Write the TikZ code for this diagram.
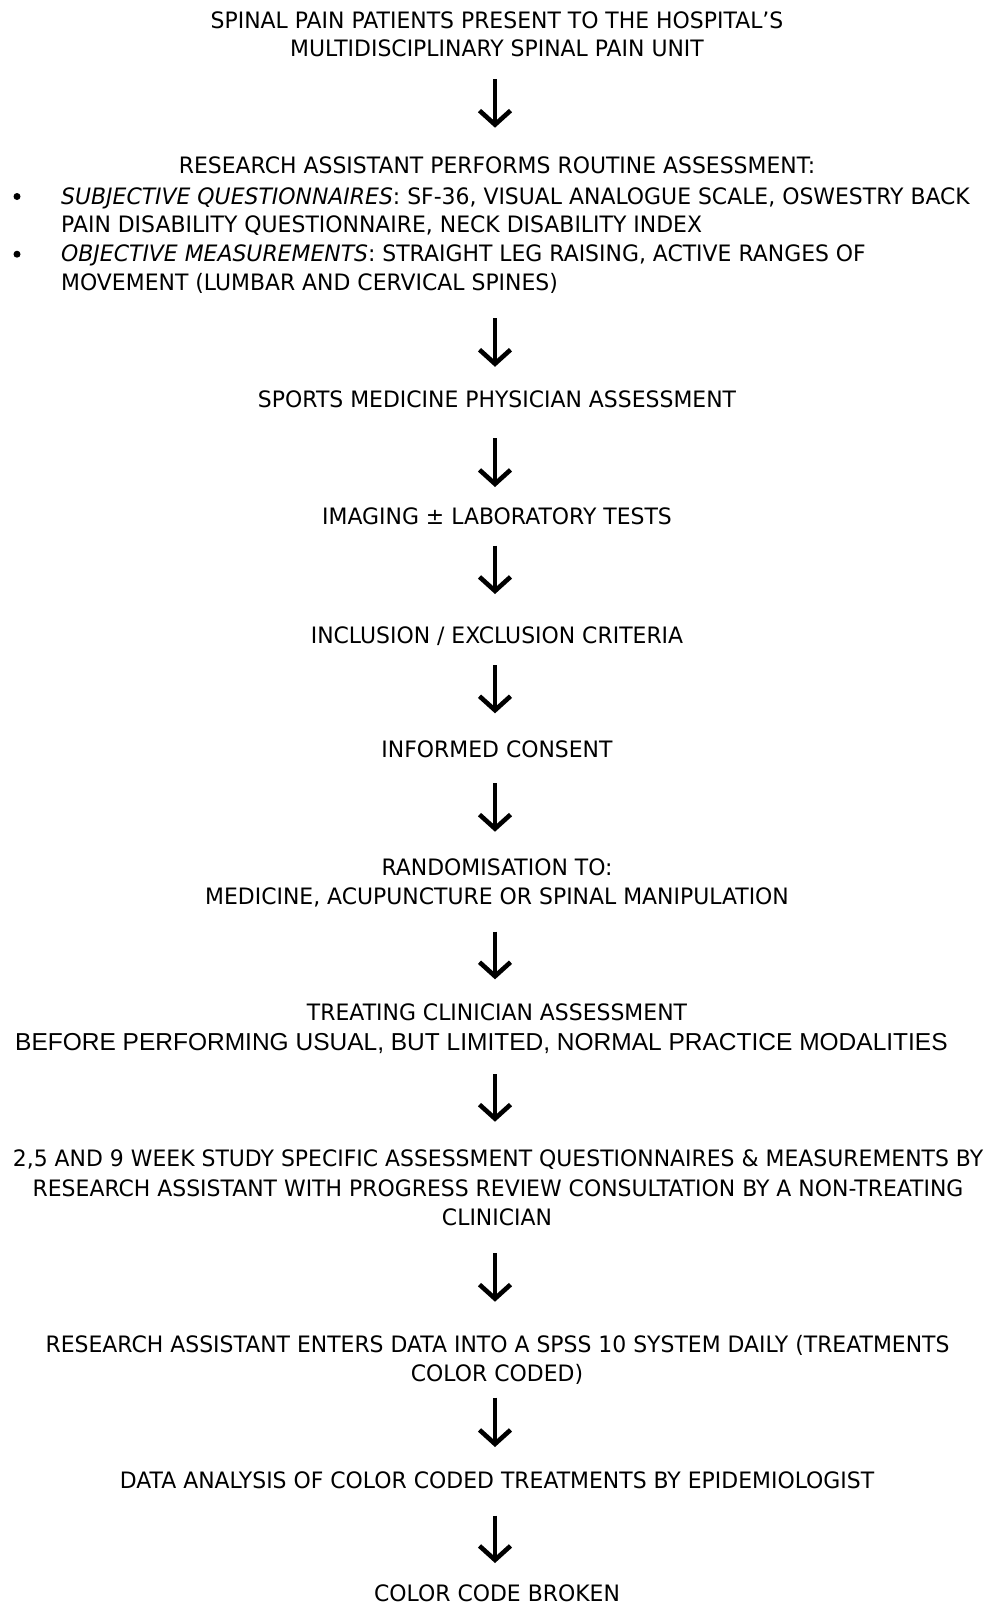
\documentclass[tikz,border=0pt]{standalone}
\usepackage{fontspec}
\setmainfont{DejaVu Sans}[FakeStretch=0.97]
\newfontfamily\widefont{Liberation Sans}
\usetikzlibrary{arrows.meta,calc}

\begin{document}
\begin{tikzpicture}[x=1pt,y=1pt,
	txt/.style={anchor=base,inner sep=0pt,font=\fontsize{22.6}{29}\selectfont},
	dot/.style={circle,fill,inner sep=0pt,minimum size=7pt},
	flow/.style={line width=4pt,-{Straight Barb[length=14pt,width=31pt,line width=4.6pt]}}]
	\useasboundingbox (0,0) rectangle (997,-1606);
	\node[txt] (t1) at (497,-28.3) {SPINAL PAIN PATIENTS PRESENT TO THE HOSPITAL'S};
	\node[txt] (t2) at (497,-56.7) {MULTIDISCIPLINARY SPINAL PAIN UNIT};
	\node[txt] (h) at (497,-173.3) {RESEARCH ASSISTANT PERFORMS ROUTINE ASSESSMENT:};
	\node[dot] (d1) at (17,-196.5) {};
	\node[txt,anchor=base west] (b1) at (61,-204) {\textit{SUBJECTIVE QUESTIONNAIRES}: SF-36, VISUAL ANALOGUE SCALE, OSWESTRY BACK};
	\node[txt,anchor=base west] (b2) at (61,-232.3) {PAIN DISABILITY QUESTIONNAIRE, NECK DISABILITY INDEX};
	\node[dot] (d2) at (17,-254.2) {};
	\node[txt,anchor=base west] (b3) at (61,-261.7) {\textit{OBJECTIVE MEASUREMENTS}: STRAIGHT LEG RAISING, ACTIVE RANGES OF};
	\node[txt,anchor=base west] (b4) at (61,-290) {MOVEMENT (LUMBAR AND CERVICAL SPINES)};
	\node[txt] (sports) at (497,-407.3) {SPORTS MEDICINE PHYSICIAN ASSESSMENT};
	\node[txt] (img) at (497,-524) {IMAGING ± LABORATORY TESTS};
	\node[txt] (incl) at (497,-643.5) {INCLUSION / EXCLUSION CRITERIA};
	\node[txt] (cons) at (497,-757.3) {INFORMED CONSENT};
	\node[txt] (rand1) at (497,-875) {RANDOMISATION TO:};
	\node[txt] (rand2) at (497,-904.5) {MEDICINE, ACUPUNCTURE OR SPINAL MANIPULATION};
	\node[txt] (treat1) at (497,-1020.7) {TREATING CLINICIAN ASSESSMENT};
	\node[txt,anchor=base west,font=\widefont\fontsize{24.5}{29}\selectfont] (treat2) at (15,-1050.7) {BEFORE PERFORMING USUAL, BUT LIMITED, NORMAL PRACTICE MODALITIES};
	\node[txt] (wk1) at (498,-1166.7) {2,5 AND 9 WEEK STUDY SPECIFIC ASSESSMENT QUESTIONNAIRES \& MEASUREMENTS BY};
	\node[txt] (wk2) at (498,-1196) {RESEARCH ASSISTANT WITH PROGRESS REVIEW CONSULTATION BY A NON-TREATING};
	\node[txt] (wk3) at (497,-1225) {CLINICIAN};
	\node[txt] (data1) at (497.5,-1352.3) {RESEARCH ASSISTANT ENTERS DATA INTO A SPSS 10 SYSTEM DAILY (TREATMENTS};
	\node[txt] (data2) at (497,-1381.7) {COLOR CODED)};
	\node[txt] (anal) at (497,-1488.5) {DATA ANALYSIS OF COLOR CODED TREATMENTS BY EPIDEMIOLOGIST};
	\node[txt] (broken) at (497,-1601.7) {COLOR CODE BROKEN};
	% arrows between the steps
	\draw[flow] ($(t2.base)+(-2,-22.3)$) -- ($(h.base)+(-2,45.6)$);
	\draw[flow] ($(h.base |- b4.base)+(-2,-28)$) -- ($(sports.base)+(-2,40.5)$);
	\draw[flow] ($(sports.base)+(-2,-31)$) -- ($(img.base)+(-2,37)$);
	\draw[flow] ($(img.base)+(-2,-21.7)$) -- ($(incl.base)+(-2,49.5)$);
	\draw[flow] ($(incl.base)+(-2,-21.5)$) -- ($(cons.base)+(-2,44)$);
	\draw[flow] ($(cons.base)+(-2,-26)$) -- ($(rand1.base)+(-2,43.3)$);
	\draw[flow] ($(rand2.base)+(-2,-27.2)$) -- ($(treat1.base)+(-2,41.4)$);
	\draw[flow] ($(treat1.base |- treat2.base)+(-2,-23.6)$) -- ($(wk3.base |- wk1.base)+(-2,45)$);
	\draw[flow] ($(wk3.base)+(-2,-28.3)$) -- ($(data2.base |- data1.base)+(-2,50.6)$);
	\draw[flow] ($(data2.base)+(-2,-16)$) -- ($(anal.base)+(-2,41.5)$);
	\draw[flow] ($(anal.base)+(-2,-27)$) -- ($(broken.base)+(-2,38.7)$);
\end{tikzpicture}
\end{document}
